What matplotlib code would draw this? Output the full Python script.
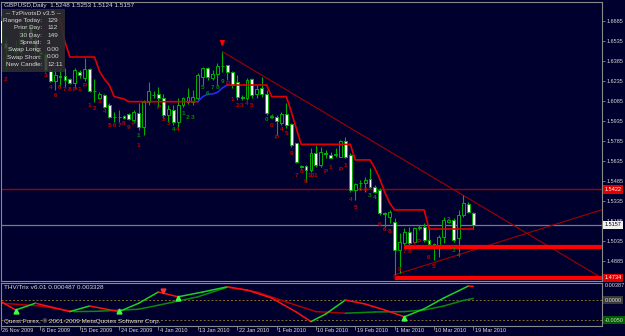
import matplotlib
matplotlib.use("Agg")
import matplotlib.pyplot as plt
import matplotlib.transforms as mtransforms
from matplotlib.patches import Rectangle
import numpy as np

plt.rcParams['font.family'] = ['Liberation Sans', 'DejaVu Sans']

# ---------------- data ----------------
opens = [1.6690, 1.6520, 1.6470, 1.6480, 1.6450, 1.6610, 1.6650, 1.6550, 1.6450, 1.6440,
         1.6310, 1.6235, 1.6270, 1.6273, 1.6250, 1.6218, 1.6305, 1.6255, 1.6325, 1.6160,
         1.6110, 1.6130, 1.6055, 1.5967, 1.5967, 1.5975, 1.5988, 1.5943, 1.5993, 1.5893,
         1.6080, 1.6130, 1.6135, 1.6110, 1.5980, 1.6018, 1.5930, 1.6055, 1.6080, 1.6080,
         1.6105, 1.6267, 1.6330, 1.6255, 1.6285, 1.6350, 1.6355, 1.6300, 1.6230, 1.6115,
         1.6105, 1.6248, 1.6135, 1.6180, 1.6135, 1.5965, 1.5967, 1.5918, 1.5985, 1.5910,
         1.5768, 1.5595, 1.5598, 1.5568, 1.5693, 1.5605, 1.5695, 1.5680, 1.5680, 1.5668,
         1.5788, 1.5680, 1.5418, 1.5468, 1.5468, 1.5498, 1.5443, 1.5418, 1.5243, 1.5218,
         1.5180, 1.4968, 1.5018, 1.5105, 1.5030, 1.5130, 1.5143, 1.5043, 1.5013, 1.4993,
         1.5068, 1.5175, 1.5193, 1.5055, 1.5230, 1.5310, 1.5248]
highs = [1.6720, 1.6560, 1.6500, 1.6540, 1.6640, 1.6690, 1.6670, 1.6620, 1.6470, 1.6470,
         1.6330, 1.6330, 1.6330, 1.6330, 1.6255, 1.6330, 1.6318, 1.6405, 1.6335, 1.6250,
         1.6150, 1.6135, 1.6068, 1.6005, 1.6018, 1.5978, 1.5993, 1.6018, 1.6068, 1.6093,
         1.6230, 1.6160, 1.6192, 1.6135, 1.6055, 1.6055, 1.6105, 1.6117, 1.6180, 1.6170,
         1.6293, 1.6342, 1.6342, 1.6318, 1.6368, 1.6455, 1.6355, 1.6310, 1.6280, 1.6130,
         1.6255, 1.6255, 1.6205, 1.6267, 1.6168, 1.5985, 1.5980, 1.6003, 1.6068, 1.5920,
         1.5768, 1.5605, 1.5605, 1.5733, 1.5755, 1.5740, 1.5718, 1.5700, 1.5730, 1.5793,
         1.5818, 1.5693, 1.5468, 1.5493, 1.5518, 1.5580, 1.5455, 1.5430, 1.5255, 1.5268,
         1.5205, 1.5093, 1.5130, 1.5140, 1.5143, 1.5155, 1.5168, 1.5143, 1.5018, 1.5080,
         1.5218, 1.5200, 1.5205, 1.5268, 1.5380, 1.5330, 1.5253]
lows = [1.6500, 1.6310, 1.6450, 1.6410, 1.6430, 1.6570, 1.6530, 1.6360, 1.6430, 1.6300,
        1.6230, 1.6168, 1.6192, 1.6192, 1.6210, 1.6185, 1.6255, 1.6237, 1.6150, 1.6080,
        1.6100, 1.6030, 1.5955, 1.5930, 1.5930, 1.5950, 1.5945, 1.5930, 1.5868, 1.5830,
        1.6055, 1.6105, 1.6042, 1.5955, 1.5930, 1.5905, 1.5880, 1.6042, 1.6060, 1.6055,
        1.6093, 1.6205, 1.6242, 1.6243, 1.6205, 1.6305, 1.6243, 1.6180, 1.6093, 1.6093,
        1.6093, 1.6105, 1.6105, 1.6117, 1.5980, 1.5955, 1.5830, 1.5905, 1.5883, 1.5742,
        1.5618, 1.5580, 1.5480, 1.5555, 1.5593, 1.5590, 1.5655, 1.5655, 1.5668, 1.5668,
        1.5655, 1.5405, 1.5343, 1.5418, 1.5405, 1.5430, 1.5393, 1.5230, 1.5143, 1.5168,
        1.4781, 1.4793, 1.5005, 1.5005, 1.5018, 1.5118, 1.5030, 1.4998, 1.4893, 1.4918,
        1.5018, 1.5170, 1.5030, 1.4955, 1.5218, 1.5243, 1.5124]
closes = [1.6520, 1.6480, 1.6480, 1.6450, 1.6610, 1.6650, 1.6550, 1.6460, 1.6440, 1.6320,
          1.6237, 1.6280, 1.6267, 1.6243, 1.6218, 1.6315, 1.6280, 1.6325, 1.6160, 1.6162,
          1.6135, 1.6042, 1.5967, 1.5968, 1.5965, 1.5955, 1.5950, 1.6005, 1.5893, 1.6080,
          1.6160, 1.6132, 1.6105, 1.5980, 1.6023, 1.5930, 1.6055, 1.6105, 1.6115, 1.6115,
          1.6280, 1.6330, 1.6267, 1.6285, 1.6350, 1.6345, 1.6305, 1.6205, 1.6117, 1.6110,
          1.6243, 1.6130, 1.6173, 1.6135, 1.5993, 1.5975, 1.5935, 1.5985, 1.5905, 1.5755,
          1.5630, 1.5592, 1.5568, 1.5693, 1.5605, 1.5700, 1.5690, 1.5660, 1.5690, 1.5788,
          1.5668, 1.5418, 1.5463, 1.5473, 1.5493, 1.5443, 1.5405, 1.5243, 1.5240, 1.5255,
          1.4968, 1.5030, 1.5105, 1.5018, 1.5130, 1.5138, 1.5043, 1.5013, 1.4980, 1.5063,
          1.5193, 1.5193, 1.5043, 1.5230, 1.5318, 1.5255, 1.5157]

date_ticks = [0, 8, 16, 24, 32, 40, 48, 56, 64, 72, 80, 88, 96]
date_labels = ["26 Nov 2009", "6 Dec 2009", "15 Dec 2009", "24 Dec 2009", "4 Jan 2010",
               "13 Jan 2010", "22 Jan 2010", "1 Feb 2010", "10 Feb 2010", "19 Feb 2010",
               "1 Mar 2010", "10 Mar 2010", "19 Mar 2010"]
price_ticks = [1.6685, 1.6535, 1.6385, 1.6235, 1.6085, 1.5935, 1.5785, 1.5635,
               1.5485, 1.5335, 1.5185, 1.5035, 1.4885]

# trailing stop line (red) and its rising part (blue)
stop_bars = [12, 13, 14, 19, 20, 21, 22, 23, 25, 26, 40]
stop_vals = [1.6700, 1.6528, 1.6415, 1.6415, 1.6310, 1.6250, 1.6205, 1.6118, 1.6100, 1.6080, 1.6080]
blue_bars = [40, 41, 42, 43, 44, 45, 46]
blue_vals = [1.6080, 1.6118, 1.6135, 1.6138, 1.6150, 1.6183, 1.6205]
stop2_bars = [46, 54, 55, 58, 59, 60, 61, 71, 72, 75, 76, 77, 78, 79, 80, 86, 87, 96]
stop2_vals = [1.6205, 1.6205, 1.6118, 1.6118, 1.6005, 1.5883, 1.5760, 1.5760, 1.5643, 1.5643,
              1.5580, 1.5500, 1.5400, 1.5320, 1.5268, 1.5268, 1.5125, 1.5125]

trend_down = ([45, 122], [1.6455, 1.4760])
trend_up = ([80, 122], [1.4781, 1.5268])
level_line = 1.5422
bid_price = 1.5157
thick_levels = [(82, 1.4990), (80, 1.4760)]
bottom_label = 1.4734

# pattern counters (text, bar, price, colour)
td_text = ['2', '3', '4', '6', '6', '7', '8', 'P', '1', 'P', '1', '2', '3', '4', '5', '6', '7', '8', '9', 'P',
           '1', '1', 'P', '2', '3', '4', '4', '1', '2', '3', '5', '6', '7', '8', '9', 'P',
           '1', '2', '3', '4', '5', '0', '0', '0', 'P', '4', '5', '9', '7', '8', '9', '10', '1', 'P', '1',
           'P', '1', '4', '5', '6', '8', '3', '4', '6', '6', '8', '9', '0', '7', '8', '1', 'P', '6', '5',
           '2', '3', '4']
td_bar = [1, 9, 10, 11, 12, 13, 14, 15, 16, 17, 18, 19, 20, 21, 22, 23, 24, 25, 26, 27,
          28, 28, 32, 33, 34, 35, 36, 37, 38, 39, 41, 42, 43, 44, 45, 46,
          47, 48, 49, 50, 51, 54, 55, 55, 56, 57, 58, 59, 60, 61, 62, 63, 64, 66, 67,
          69, 70, 71, 72, 73, 74, 75, 76, 77, 78, 79, 80, 81, 82, 83, 84, 85, 87, 88,
          91, 92, 93]
td_price = [1.6243, 1.6280, 1.6190, 1.6130, 1.6190, 1.6168, 1.6168, 1.6168, 1.6168, 1.6205,
            1.6055, 1.6030, 1.6078, 1.6003, 1.5898, 1.5898, 1.5898, 1.5920, 1.5883, 1.5913,
            1.5830, 1.5748, 1.6033, 1.5943, 1.5913, 1.5875, 1.5875, 1.5988, 1.5958, 1.5958,
            1.6183, 1.6145, 1.6183, 1.6183, 1.6228, 1.6213,
            1.6093, 1.6048, 1.6055, 1.6063, 1.6055, 1.5943, 1.5958, 1.5898, 1.5815, 1.5868,
            1.5845, 1.5695, 1.5530, 1.5553, 1.5478, 1.5530, 1.5530, 1.5553, 1.5590,
            1.5575, 1.5598, 1.5343, 1.5290, 1.5418, 1.5418, 1.5373, 1.5365, 1.5155, 1.5125,
            1.5110, 1.4758, 1.4818, 1.4953, 1.4953, 1.5010, 1.5033, 1.4908, 1.4840,
            1.5193, 1.4960, 1.4923]
td_col = ['r', 'r', 'r', 'r', 'r', 'r', 'r', 'r', 'r', 'r', 'r', 'r', 'r', 'r', 'r', 'r', 'r', 'r', 'r', 'r',
          'g', 'r', 'r', 'r', 'r', 'g', 'r', 'g', 'g', 'g', 'g', 'g', 'g', 'g', 'g', 'r',
          'r', 'r', 'r', 'r', 'r', 'g', 'g', 'r', 'r', 'r', 'r', 'r', 'r', 'r', 'r', 'r', 'r', 'r', 'r',
          'r', 'r', 'r', 'r', 'r', 'r', 'g', 'g', 'r', 'r', 'r', 'r', 'r', 'r', 'r', 'r', 'r', 'r', 'r',
          'g', 'g', 'g']

# THV/Trix lines (bar, value)
fast_bars = [0, 3, 7, 14, 18, 24, 28, 32, 36, 41, 46, 50, 55, 60, 63, 66, 70, 74, 78, 82, 86, 90, 93, 95, 96]
fast_vals = [-0.0004, -0.0025, -0.0008, -0.0029, -0.0015, -0.0029, -0.0008, 0.0020, 0.0008, 0.0020,
             0.0033, 0.0025, 0.0005, -0.0030, -0.0054, -0.0035, 0.0000, -0.0010, -0.0025, -0.0042,
             -0.0022, 0.0005, 0.0023, 0.0035, 0.0034]
slow_bars = [0, 8, 15, 20, 28, 32, 40, 46, 52, 58, 64, 70, 76, 82, 86, 90, 94, 96]
slow_vals = [-0.0008, -0.0015, -0.0029, -0.0028, -0.0023, -0.0013, 0.0008, 0.0032, 0.0020, -0.0005,
             -0.0029, -0.0033, -0.0030, -0.0029, -0.0025, -0.0015, -0.0001, 0.0004]
up_arrow_bars = [3, 24, 36, 82]
up_arrow_vals = [-0.0027, -0.0027, 0.0005, -0.0044]
down_arrow_bars = [33]
down_arrow_vals = [0.0022]

info_labels = ["Range Today:", "Prior Day:", "30 Day:", "Spread:", "Swap Long:", "Swap Short:", "New Candle:"]
info_values = ["129", "112", "149", "3", "0.00", "0.00", "12:11"]

# ---------------- style ----------------
W, H = 625, 336
BG = "#00002e"
GRN = "#00b000"
RED = "#ff0000"
DRED = "#a00000"
GRID = "#8a8a8a"
TXT = "#d8d8d8"
FS = 4.6
FSA = 4.0

fig = plt.figure(figsize=(W / 100, H / 100), dpi=100)
fig.patch.set_facecolor(BG)

def fx(px):
    return px / W

def fy(py):
    return 1 - py / H

ax = fig.add_axes([fx(1), fy(281), (602 - 1) / W, (281 - 2) / H])
ax2 = fig.add_axes([fx(1), fy(326), (602 - 1) / W, (326 - 283) / H])
XMAX = 601 / 4.92
for a in (ax, ax2):
    a.set_facecolor(BG)
    a.set_xlim(0, XMAX)
    for s in a.spines.values():
        s.set_color(GRID)
        s.set_linewidth(0.8)
    a.tick_params(colors=GRID, labelcolor=TXT, labelsize=FSA, length=2.0, width=0.6, pad=1.0)
    a.yaxis.tick_right()
ax.set_ylim(1.6685 - 260 * 0.00075, 1.6685 + 19 * 0.00075)
ax2.set_ylim(-0.0065, 0.00425)
ax.set_xticks([])
ax2.set_xticks(date_ticks)
ax2.set_xticklabels([])
ax2.tick_params(axis='x', length=3)

# candles
n = len(opens)
xs = np.arange(n)
o = np.array(opens); c = np.array(closes); h = np.array(highs); l = np.array(lows)
ax.vlines(xs, l, h, color=GRN, lw=0.8, zorder=3)
bottoms = np.minimum(o, c)
heights = np.maximum(np.abs(c - o), 0.00003)
faces = ['white' if cc < oo else BG for oo, cc in zip(o, c)]
ax.bar(xs, heights, bottom=bottoms, width=0.58, color=faces, edgecolor=GRN, linewidth=0.7, zorder=4)

# lines
ax.axhline(level_line, color=DRED, lw=1.0, zorder=2)
ax.axhline(bid_price, color="#7a7a7a", lw=0.9, zorder=2)
ax.plot(trend_down[0], trend_down[1], color=DRED, lw=0.8, zorder=2)
ax.plot(trend_up[0], trend_up[1], color=DRED, lw=0.8, zorder=2)
for b, v in thick_levels:
    ax.plot([b, XMAX], [v, v], color=RED, lw=3.0, zorder=5, solid_capstyle='butt')
ax.plot(stop_bars, stop_vals, color="#e00000", lw=1.2, zorder=5)
ax.plot(blue_bars, blue_vals, color="#2030ff", lw=1.1, zorder=5)
ax.plot(stop2_bars, stop2_vals, color="#e00000", lw=1.2, zorder=5)

# peak arrow
ax.annotate('', xy=(45, 1.6475), xytext=(45, 1.6535),
            arrowprops=dict(arrowstyle='-|>', color=RED, lw=1.3, mutation_scale=6), zorder=7)

for t, b, p, cc in zip(td_text, td_bar, td_price, td_col):
    ax.text(b, p, t, color="#c00000" if cc == 'r' else "#008a00", fontsize=4.6,
            fontweight='bold', ha='center', va='center', zorder=6)

# right axis price labels
ax.set_yticks(price_ticks)
ax.set_yticklabels([f"{v:.4f}" for v in price_ticks])
bt = mtransforms.blended_transform_factory(ax.transAxes, ax.transData)
box_kw = dict(transform=bt, fontsize=FSA, va='center', ha='left', zorder=20, clip_on=False)
ax.text(1.004, level_line, f"{level_line:.4f}", color='white',
        bbox=dict(boxstyle='square,pad=0.3', fc='#e00000', ec='none'), **box_kw)
ax.text(1.004, bid_price, f"{bid_price:.4f}", color='black',
        bbox=dict(boxstyle='square,pad=0.3', fc='#f0f0f0', ec='none'), **box_kw)
ax.text(1.004, thick_levels[1][1], f"{bottom_label:.4f}", color='white',
        bbox=dict(boxstyle='square,pad=0.25', fc='#e00000', ec='none'), **box_kw)

# lower panel
ax2.axhline(0, color="#8a7020", lw=0.7, ls=(0, (2, 2)))
ax2.axhline(-0.005, color="#8a7020", lw=0.7, ls=(0, (2, 2)))

def colored(bars, vals, up_c, dn_c, lw):
    for k in range(len(bars) - 1):
        col = up_c if vals[k + 1] >= vals[k] else dn_c
        ax2.plot(bars[k:k + 2], vals[k:k + 2], color=col, lw=lw, solid_capstyle='round')

colored(slow_bars, slow_vals, "#0a8a0a", "#b00000", 1.1)
colored(fast_bars, fast_vals, "#20d020", "#ff1010", 1.1)
ax2.plot(up_arrow_bars, up_arrow_vals, marker='^', ls='none', color='#40ff40', ms=3.5)
ax2.plot(down_arrow_bars, down_arrow_vals, marker='v', ls='none', color='#ff3030', ms=3.5)
ax2.set_yticks([])
bt2 = mtransforms.blended_transform_factory(ax2.transAxes, ax2.transData)
ax2.text(1.004, 0.00360, "0.00387", transform=bt2, fontsize=FSA, color=TXT, va='center', ha='left', clip_on=False)
ax2.text(1.004, 0.0, "0.0000", transform=bt2, fontsize=FSA, color=TXT, va='center', ha='left', clip_on=False,
         bbox=dict(boxstyle='square,pad=0.3', fc='#3a3a3a', ec='none'))
ax2.text(1.004, -0.005, "-0.0050", transform=bt2, fontsize=FSA, color=TXT, va='center', ha='left', clip_on=False,
         bbox=dict(boxstyle='square,pad=0.3', fc='#006000', ec='none'))
ax2.text(3 / 601, 0.0032, "THV/Trix v6.01 0.000487 0.003328", transform=bt2, fontsize=FS,
         color=TXT, va='center', ha='left')
ax2.text(3 / 601, -0.0052, "Quest Forex, \u00a9 2001-2009 MetaQuotes Software Corp.", transform=bt2,
         fontsize=FS, color=TXT, va='center', ha='left')

# date labels
btd = mtransforms.blended_transform_factory(ax2.transData, fig.transFigure)
for b, lab in zip(date_ticks, date_labels):
    ax2.text(b + 0.3, fy(331), lab, transform=btd, fontsize=FSA, color=TXT, va='center', ha='left', clip_on=False)

# header + info box
fig.text(fx(4), fy(6), "GBPUSD,Daily  1.5248 1.5253 1.5124 1.5157", fontsize=FS, color=TXT, va='center', ha='left')
box = Rectangle((fx(2), fy(72)), 63 / W, 63 / H, transform=fig.transFigure, facecolor='#2e2e2e',
                edgecolor='none', alpha=0.88, zorder=5)
fig.add_artist(box)
fig.text(fx(33), fy(13.5), "-- TzPivotsD v3.5 --", fontsize=FS, color=TXT, va='center', ha='center', zorder=6)
for k, (lab, val) in enumerate(zip(info_labels, info_values)):
    yy = 20.5 + k * 7.3
    fig.text(fx(42), fy(yy), lab, fontsize=FS, color=TXT, va='center', ha='right', zorder=6)
    fig.text(fx(47), fy(yy), val, fontsize=FS, color=TXT, va='center', ha='left', zorder=6)

fig.savefig("out.png", dpi=100, facecolor=BG)
